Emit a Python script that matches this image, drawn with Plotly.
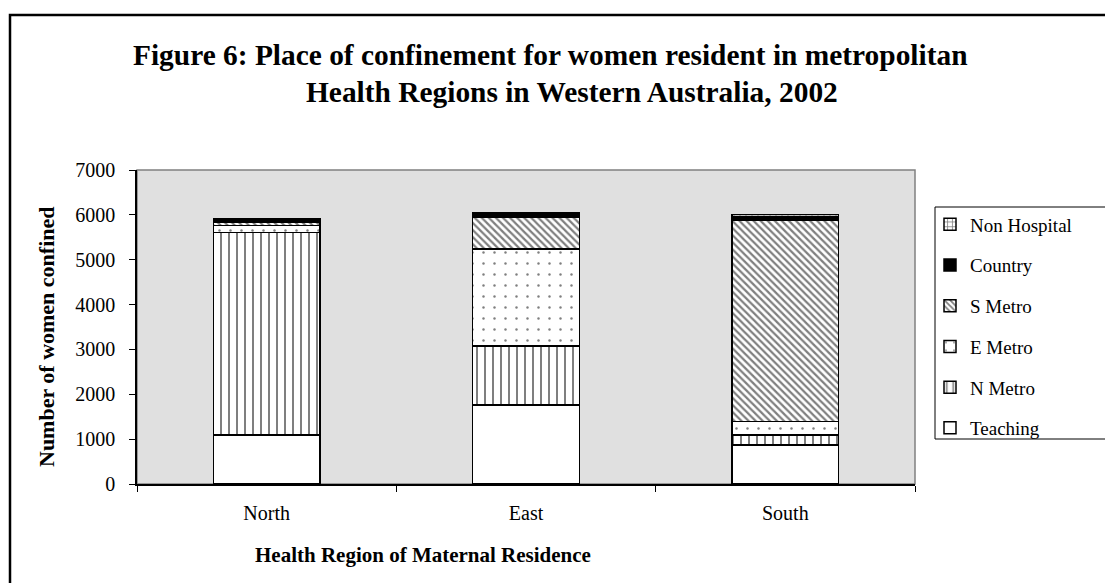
import plotly.graph_objects as go

regions = ["North", "East", "South"]
teaching = [1090, 1760, 870]
n_metro = [4520, 1320, 220]
e_metro = [150, 2155, 300]
s_metro = [70, 715, 4500]
country = [50, 50, 60]
non_hospital = [40, 40, 60]

series = [
    ("Teaching", teaching, dict(shape="", fgcolor="black", bgcolor="white"), "white"),
    ("N Metro", n_metro, dict(shape="|", fgcolor="black", bgcolor="white", size=8, solidity=0.25), "white"),
    ("E Metro", e_metro, dict(shape=".", fgcolor="black", bgcolor="white", size=11, solidity=0.04), "white"),
    ("S Metro", s_metro, dict(shape="\\", fgcolor="black", bgcolor="white", size=5, solidity=0.45), "white"),
    ("Country", country, dict(shape=""), "black"),
    ("Non Hospital", non_hospital, dict(shape="+", fgcolor="black", bgcolor="white", size=6, solidity=0.3), "white"),
]

FONT = "Liberation Serif, Times New Roman, serif"

fig = go.Figure()
n = len(series)
for i, (name, vals, pat, col) in enumerate(series):
    fig.add_trace(go.Bar(
        x=regions, y=vals, name=name, legendgroup=name, legendrank=n - i,
        marker=dict(color=col, pattern=pat, line=dict(color="black", width=1.5)),
    ))

# page body has an 8px offset; plot area on screen spans x 137..915, y 170..484
OFF = 8
SX0, SX1, SY0, SY1 = 137, 915, 170, 484
L, T = SX0 - OFF, SY0 - OFF
R = 1113 - (SX1 - OFF)
B = 583 - (SY1 - OFF)
PW, PH = SX1 - SX0, SY1 - SY0

def px(x):
    return (x - SX0) / PW

def py(y):
    return (SY1 - y) / PH

fig.update_layout(
    width=1113, height=583,
    margin=dict(l=L, r=R, t=T, b=B, autoexpand=False),
    barmode="stack", bargap=0.589,
    paper_bgcolor="white", plot_bgcolor="#E0E0E0",
    font=dict(family=FONT, size=20, color="black"),
    showlegend=True,
    legend=dict(
        traceorder="grouped", tracegroupgap=13,
        x=px(930), y=py(205.5), xanchor="left", yanchor="top",
        bgcolor="rgba(0,0,0,0)", borderwidth=0,
        font=dict(family=FONT, size=19, color="black"),
        itemclick=False,
    ),
    xaxis=dict(
        showline=True, linecolor="black", linewidth=1.5,
        ticks="outside", tickson="boundaries", ticklen=6, tickcolor="black",
        tickfont=dict(family=FONT, size=20, color="black"),
        ticklabelstandoff=10,
        showgrid=False,
    ),
    yaxis=dict(
        range=[0, 7000], dtick=1000,
        showline=True, linecolor="black", linewidth=1.5,
        ticks="outside", ticklen=6, tickcolor="black",
        tickfont=dict(family=FONT, size=20, color="black"),
        ticklabelstandoff=10,
        showgrid=False, zeroline=False,
    ),
    shapes=[
        dict(type="rect", xref="paper", yref="paper", x0=0, x1=1, y0=0, y1=1,
             line=dict(color="#808080", width=1.5), layer="below"),
        dict(type="rect", xref="paper", yref="paper",
             x0=px(935), x1=px(1112), y0=py(439), y1=py(207),
             line=dict(color="black", width=1)),
        dict(type="rect", xref="paper", yref="paper",
             x0=px(10), x1=px(1130), y0=py(600), y1=py(15),
             line=dict(color="black", width=2.5)),
    ],
    annotations=[
        dict(text="<b>Figure 6: Place of confinement for women resident in metropolitan</b>",
             xref="paper", yref="paper", x=px(550), y=py(55), xanchor="center", yanchor="middle",
             showarrow=False, font=dict(family=FONT, size=29.4, color="black")),
        dict(text="<b>Health Regions in Western Australia, 2002</b>",
             xref="paper", yref="paper", x=px(572), y=py(92), xanchor="center", yanchor="middle",
             showarrow=False, font=dict(family=FONT, size=29.4, color="black")),
        dict(text="<b>Health Region of Maternal Residence</b>",
             xref="paper", yref="paper", x=px(423), y=py(555), xanchor="center", yanchor="middle",
             showarrow=False, font=dict(family=FONT, size=21, color="black")),
        dict(text="<b>Number of women confined</b>", textangle=-90,
             xref="paper", yref="paper", x=px(46), y=py(337), xanchor="center", yanchor="middle",
             showarrow=False, font=dict(family=FONT, size=22, color="black")),
    ],
)

fig.write_html("out.html")
